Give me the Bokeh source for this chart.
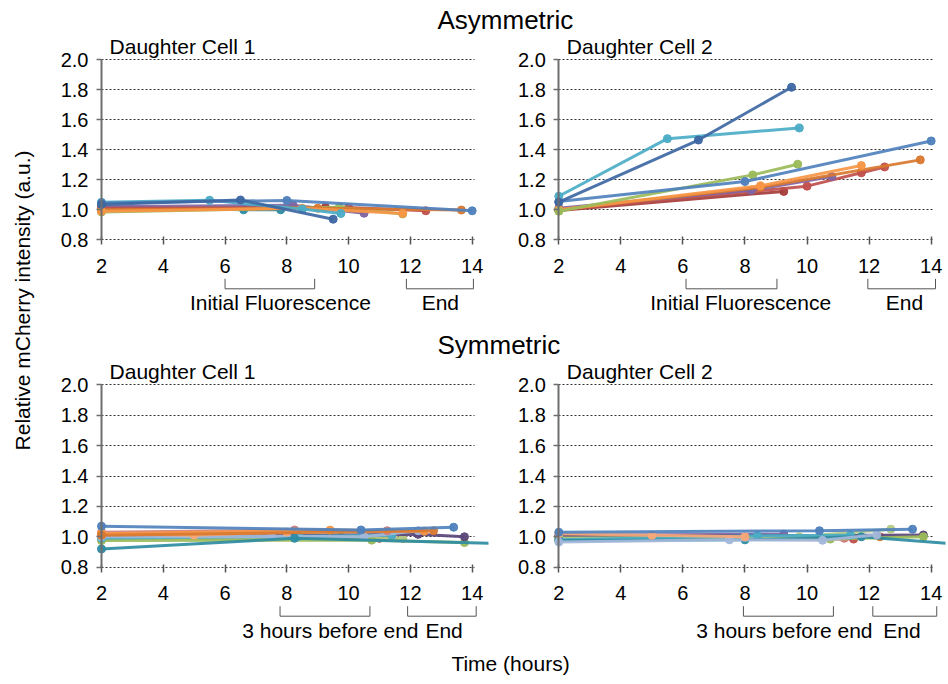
from math import pi
from bokeh.plotting import figure
from bokeh.layouts import row, column
from bokeh.models import FixedTicker, Range1d, PrintfTickFormatter
from bokeh.embed import file_html
from bokeh.resources import INLINE
from bokeh.core.properties import value

FONT = "Liberation Sans"

# ---------------- data ----------------
X_TICKS = [2, 4, 6, 8, 10, 12, 14]
Y_TICKS = [0.8, 1.0, 1.2, 1.4, 1.6, 1.8, 2.0]

# Asymmetric, daughter cell 1
ASYM1_NAMES = ["teal", "purple", "dkred", "red", "green", "dkorange", "orange", "aqua", "blue", "dkblue"]
ASYM1_T = [[2, 6.6, 7.8], [2, 8.2, 10.5], [2, 9.25], [2, 10.0, 12.5], [2, 9.7, 11.75],
           [2, 9.0, 13.65], [2, 8.5, 11.75], [2, 5.5, 8.5, 9.75], [2, 8.0, 14.0], [2, 6.5, 9.5]]
ASYM1_V = [[1.02, 1.0, 1.0], [1.02, 1.03, 0.977], [1.0, 1.015], [1.01, 1.015, 0.993], [0.985, 1.017, 0.972],
           [1.0, 1.01, 0.998], [0.99, 1.01, 0.975], [1.05, 1.063, 1.005, 0.975], [1.045, 1.062, 0.993], [1.035, 1.065, 0.937]]

# Asymmetric, daughter cell 2
ASYM2_NAMES = ["dkred", "red", "purple", "dkorange", "orange", "green", "blue", "aqua", "dkblue"]
ASYM2_T = [[2, 9.25], [2, 10.0, 11.75, 12.5], [2, 8.2, 10.8], [2, 8.5, 13.65], [2, 8.5, 11.75],
           [2, 8.25, 9.7], [2, 8.0, 14.0], [2, 5.5, 9.75], [2, 6.5, 9.5]]
ASYM2_V = [[0.995, 1.122], [1.0, 1.157, 1.246, 1.285], [1.01, 1.13, 1.221], [1.0, 1.15, 1.332], [1.0, 1.16, 1.294],
           [0.99, 1.232, 1.303], [1.055, 1.188, 1.458], [1.09, 1.473, 1.544], [1.05, 1.464, 1.815]]

# Symmetric, daughter cell 1
SYM1_NAMES = ["dkred", "red", "ltgreen", "green", "dkpurple", "aqua", "ltblue", "pink", "ltorange",
              "orange", "dkorange", "teal", "blue"]
SYM1_T = [[2, 11.0], [2, 11.75], [2, 9.75, 11.75], [2, 10.75, 13.75], [2, 12.25, 13.75], [2, 8.4, 11.4],
          [2, 7.5, 10.5, 12.25], [2, 8.25, 11.25], [2, 5.0, 8.0], [2, 9.4, 12.45], [2, 12.75],
          [2, 8.25, 15.0], [2, 10.4, 13.4]]
SYM1_V = [[0.995, 0.99], [1.01, 0.99], [0.985, 1.0, 0.99], [0.975, 0.978, 0.962], [1.0, 1.016, 1.0],
          [0.99, 1.003, 1.01], [1.0, 1.003, 1.0, 1.04], [1.03, 1.045, 1.04], [1.02, 1.011, 1.031],
          [1.02, 1.044, 1.037], [1.01, 1.04], [0.92, 0.99, 0.955], [1.07, 1.045, 1.063]]

# Symmetric, daughter cell 2
SYM2_NAMES = ["red", "pink", "dkorange", "purple", "dkpurple", "green", "ltgreen", "aqua", "teal",
              "ltblue", "ltorange", "blue"]
SYM2_T = [[2, 11.5], [2, 11.2], [2, 12.35], [2, 9.25], [2, 13.75], [2, 10.75, 13.75], [2, 9.75, 12.7],
          [2, 8.4, 11.4], [2, 8.0, 11.75, 15.0], [2, 7.5, 10.5, 12.25], [2, 5.0, 8.0], [2, 10.4, 13.4]]
SYM2_V = [[0.99, 0.985], [1.0, 0.99], [1.0, 1.0], [1.01, 1.017], [1.0, 1.012], [0.99, 0.985, 1.0],
          [0.99, 1.0, 1.05], [0.98, 1.007, 1.01], [0.975, 0.98, 1.0, 0.95], [0.965, 0.98, 0.977, 1.013],
          [1.02, 1.01, 1.0], [1.03, 1.04, 1.05]]

# bracket annotations (time ranges, hours)
ASYM1_BRACKETS = [[6.0, 8.9], [11.87, 14.04]]
ASYM2_BRACKETS = [[6.1, 9.03], [11.96, 14.14]]
SYM1_BRACKETS = [[7.78, 10.69], [11.91, 14.13]]
SYM2_BRACKETS = [[7.95, 10.85], [12.12, 14.18]]
ASYM_BRACKET_LABELS = ["Initial Fluorescence", "End"]
SYM_BRACKET_LABELS = ["3 hours before end", "End"]
ASYM1_LABEL_X = [7.79, 12.97]
ASYM2_LABEL_X = [7.86, 13.14]
SYM1_LABEL_X = [9.41, 13.09]
SYM2_LABEL_X = [9.27, 13.06]

# ---------------- style ----------------
COLORS = {
    "blue": "#4F81BD", "dkblue": "#3D67A3", "aqua": "#4BACC6", "teal": "#2E8CA3",
    "green": "#9BBB59", "ltgreen": "#B3CA84", "orange": "#F79646", "dkorange": "#D9782F",
    "ltorange": "#F8A878", "red": "#C0504D", "dkred": "#A53D3B", "pink": "#D07F7D",
    "purple": "#8064A2", "dkpurple": "#5B4679", "ltblue": "#A3B7DA",
}
TXT = "21px"
TICK_TXT = "20px"
SEC_TXT = "26px"

# layout (pixels)
YLAB_W = 48
LEFT_W, RIGHT_W = 457, 443
MB_L, MB_R_LEFT, MB_R_RIGHT = 7, 17, 3
T1_H, TOP_H, T2_H, BOT_H, XL_H = 34, 284, 40, 286, 36
PXU_TOP, PXU_BOT = 150.25, 152.0
X_RANGE_LEFT = (2 - 46 / 30.89, 2 + 387 / 30.89)
X_RANGE_RIGHT = (2 - 46.3 / 31.03, 2 + 386.7 / 31.03)
Y_RANGE_TOP = (0.8 - 78.7 / PXU_TOP, 2.0 + 25.0 / PXU_TOP)
Y_RANGE_BOT = (0.8 - 77.3 / PXU_BOT, 2.0 + 26.3 / PXU_BOT)
GRID_END = 14.06


def text_fig(w, h):
    f = figure(width=w, height=h, x_range=Range1d(0, w), y_range=Range1d(0, h),
               toolbar_location=None, output_backend="svg", min_border=0,
               x_axis_location=None, y_axis_location=None)
    f.grid.visible = False
    f.outline_line_color = None
    return f


def panel(names, ts, vs, title, brackets, blabels, blabel_x, x_rng, y_rng, w, h, mbl, mbr, pxu):
    p = figure(width=w, height=h, x_range=Range1d(*x_rng), y_range=Range1d(*y_rng),
               toolbar_location=None, output_backend="svg",
               min_border_left=mbl, min_border_right=mbr, min_border_top=0, min_border_bottom=0)
    p.outline_line_color = None
    p.xgrid.visible = False
    yt = FixedTicker(ticks=Y_TICKS)
    xt = FixedTicker(ticks=X_TICKS)
    g = p.ygrid[0]
    g.ticker = yt
    grid_style = dict(line_color="#333333", line_dash="2 2", line_width=1)
    if "cross_bounds" in g.properties():
        g.cross_bounds = (X_TICKS[0], GRID_END)
        g.grid_line_color = grid_style["line_color"]
        g.grid_line_dash = grid_style["line_dash"]
        g.grid_line_width = grid_style["line_width"]
    else:
        g.visible = False
        n = len(Y_TICKS)
        p.segment(x0=[X_TICKS[0]] * n, x1=[GRID_END] * n, y0=Y_TICKS, y1=Y_TICKS, **grid_style)

    ya = p.yaxis[0]
    ya.ticker = yt
    ya.formatter = PrintfTickFormatter(format="%.1f")
    ya.fixed_location = X_TICKS[0]
    ya.bounds = (Y_TICKS[0], Y_TICKS[-1])
    ya.axis_line_color = "#6e6e6e"
    ya.axis_line_width = 2
    ya.major_tick_line_color = "#6e6e6e"
    ya.major_tick_line_width = 1.5
    ya.major_tick_in = 0
    ya.major_tick_out = 5
    ya.minor_tick_line_color = None
    ya.major_label_standoff = 8
    ya.major_label_text_font = FONT
    ya.major_label_text_font_size = TICK_TXT
    ya.major_label_text_color = "black"

    xa = p.xaxis[0]
    xa.ticker = xt
    xa.fixed_location = Y_TICKS[0]
    xa.axis_line_color = None
    xa.major_tick_line_color = "#555555"
    xa.major_tick_line_width = 1.5
    xa.major_tick_in = 3
    xa.major_tick_out = 5
    xa.minor_tick_line_color = None
    xa.major_label_standoff = 14
    xa.major_label_text_font = FONT
    xa.major_label_text_font_size = TICK_TXT
    xa.major_label_text_color = "black"

    for name, t, v in zip(names, ts, vs):
        c = COLORS[name]
        p.line(t, v, line_color=c, line_width=3, line_alpha=0.92)
        p.scatter(t, v, size=8, fill_color=c, line_color=c, fill_alpha=0.95)

    # subplot title
    p.text(x=[2.26], y=[2.0 + 13.0 / pxu], text=[title], text_font=value(FONT),
           text_font_size=TXT, text_align="left", text_baseline="middle", text_color="black")

    # brackets below the axis
    top = 0.8 - 39.0 / pxu
    bot = 0.8 - 49.0 / pxu
    xs = [[a, a, b, b] for a, b in brackets]
    ys = [[top, bot, bot, top] for _ in brackets]
    p.multi_line(xs, ys, line_color="#555555", line_width=1)
    p.text(x=blabel_x, y=[0.8 - 63.0 / pxu] * len(blabel_x), text=blabels, text_font=value(FONT),
           text_font_size=TXT, text_align="center", text_baseline="middle", text_color="black")
    return p


p1 = panel(ASYM1_NAMES, ASYM1_T, ASYM1_V, "Daughter Cell 1", ASYM1_BRACKETS, ASYM_BRACKET_LABELS,
           ASYM1_LABEL_X, X_RANGE_LEFT, Y_RANGE_TOP, LEFT_W, TOP_H, MB_L, MB_R_LEFT, PXU_TOP)
p2 = panel(ASYM2_NAMES, ASYM2_T, ASYM2_V, "Daughter Cell 2", ASYM2_BRACKETS, ASYM_BRACKET_LABELS,
           ASYM2_LABEL_X, X_RANGE_RIGHT, Y_RANGE_TOP, RIGHT_W, TOP_H, MB_L, MB_R_RIGHT, PXU_TOP)
p3 = panel(SYM1_NAMES, SYM1_T, SYM1_V, "Daughter Cell 1", SYM1_BRACKETS, SYM_BRACKET_LABELS,
           SYM1_LABEL_X, X_RANGE_LEFT, Y_RANGE_BOT, LEFT_W, BOT_H, MB_L, MB_R_LEFT, PXU_BOT)
p4 = panel(SYM2_NAMES, SYM2_T, SYM2_V, "Daughter Cell 2", SYM2_BRACKETS, SYM_BRACKET_LABELS,
           SYM2_LABEL_X, X_RANGE_RIGHT, Y_RANGE_BOT, RIGHT_W, BOT_H, MB_L, MB_R_RIGHT, PXU_BOT)

CW = LEFT_W + RIGHT_W
t1 = text_fig(CW, T1_H)
t1.text(x=[389], y=[15], text=["Asymmetric"], text_font=value(FONT), text_font_size=SEC_TXT,
        text_align="left", text_baseline="middle", text_color="black")
t2 = text_fig(CW, T2_H)
t2.text(x=[389], y=[14], text=["Symmetric"], text_font=value(FONT), text_font_size=SEC_TXT,
        text_align="left", text_baseline="middle", text_color="black")
xl = text_fig(CW, XL_H)
xl.text(x=[462], y=[17], text=["Time (hours)"], text_font=value(FONT), text_font_size=TXT,
        text_align="center", text_baseline="middle", text_color="black")

TOTAL_H = T1_H + TOP_H + T2_H + BOT_H + XL_H
yl = text_fig(YLAB_W, TOTAL_H)
yl.text(x=[21.7], y=[TOTAL_H - 300], text=["Relative mCherry intensity (a.u.)"], text_font=value(FONT),
        text_font_size=TXT, text_align="center", text_baseline="middle", angle=pi / 2, text_color="black")

layout = row(yl, column(t1, row(p1, p2), t2, row(p3, p4), xl))

open("out.html", "w").write(file_html(layout, INLINE))
